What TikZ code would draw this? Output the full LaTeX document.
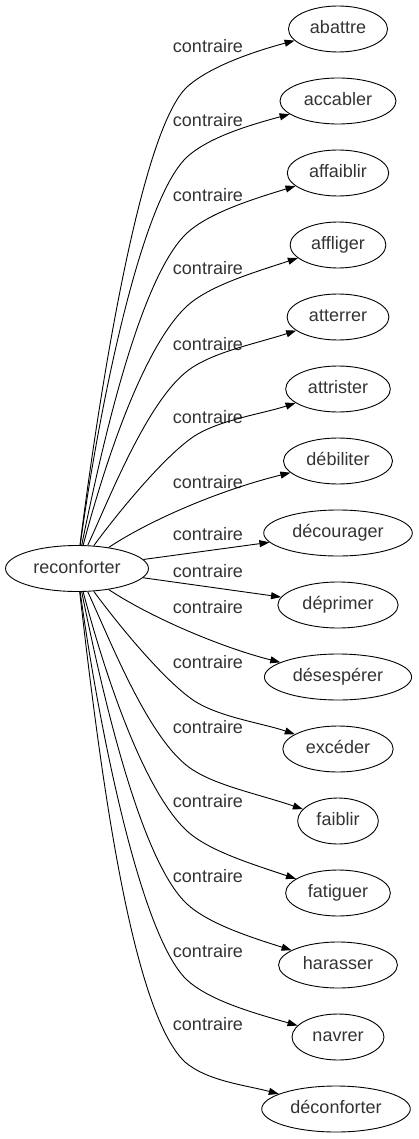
\documentclass[tikz,border=0pt]{standalone}
\usepackage{fontspec}
\setmainfont{Liberation Sans}[Ligatures=NoCommon]
\usetikzlibrary{shapes.geometric,arrows.meta}
\definecolor{txt}{HTML}{333333}
\begin{document}
\begin{tikzpicture}[x=1pt,y=-1pt,
  word/.style={ellipse,draw,line width=0.9pt,inner xsep=7pt,inner ysep=0pt,
    minimum height=46pt,text height=13pt,text depth=4pt,
    font=\fontsize{18}{21}\selectfont,text=txt},
  rel/.style={inner sep=0pt,anchor=base,font=\fontsize{18}{21}\selectfont,text=txt},
  link/.style={draw,line width=0.9pt,-{Triangle[length=10pt,width=7pt]}}]
\path[use as bounding box] (0,0) rectangle (419,1139);

\node[word] (rec) at (77,568.5) {reconforter};
\node[word] (n0) at (338,29) {abattre};
\node[word] (n1) at (338,101) {accabler};
\node[word] (n2) at (338,173) {affaiblir};
\node[word] (n3) at (338,245) {affliger};
\node[word] (n4) at (338,317) {atterrer};
\node[word] (n5) at (338,389) {attrister};
\node[word] (n6) at (338,461) {débiliter};
\node[word] (n7) at (338,533) {décourager};
\node[word] (n8) at (338,605) {déprimer};
\node[word] (n9) at (338,677) {désespérer};
\node[word] (n10) at (338,749) {excéder};
\node[word] (n11) at (338,821) {faiblir};
\node[word] (n12) at (338,893) {fatiguer};
\node[word] (n13) at (338,965) {harasser};
\node[word] (n14) at (338,1037) {navrer};
\node[word] (n15) at (336,1109) {déconforter};

\node[rel] (l0) at (208,53) {contraire};
\node[rel] (l1) at (208,127) {contraire};
\node[rel] (l2) at (208,202) {contraire};
\node[rel] (l3) at (208,275) {contraire};
\node[rel] (l4) at (208,350) {contraire};
\node[rel] (l5) at (208,423) {contraire};
\node[rel] (l6) at (208,488) {contraire};
\node[rel] (l7) at (208,540) {contraire};
\node[rel] (l8) at (208,577) {contraire};
\node[rel] (l9) at (208,613) {contraire};
\node[rel] (l10) at (208,668) {contraire};
\node[rel] (l11) at (208,733) {contraire};
\node[rel] (l12) at (208,807) {contraire};
\node[rel] (l13) at (208,882) {contraire};
\node[rel] (l14) at (208,957) {contraire};
\node[rel] (l15) at (208,1030) {contraire};

\draw[link] (rec) .. controls (99,395) and (140,131) .. (187,87) .. controls (209,67) and (252,52) .. (n0);
\draw[link] (rec) .. controls (98,415) and (140,201) .. (187,157) .. controls (209,137) and (250,125) .. (n1);
\draw[link] (rec) .. controls (102,445) and (140,277) .. (187,233) .. controls (209,213) and (250,200) .. (n2);
\draw[link] (rec) .. controls (107,455) and (145,345) .. (187,306) .. controls (209,286) and (252,273) .. (n3);
\draw[link] (rec) .. controls (111,495) and (150,394) .. (193,367) .. controls (218,351) and (258,343) .. (n4);
\draw[link] (rec) .. controls (120,510) and (164,457) .. (193,437) .. controls (218,420) and (262,414) .. (n5);
\draw[link] (rec) .. controls (150,520) and (220,490) .. (n6);
\draw[link] (rec) -- (n7);
\draw[link] (rec) -- (n8);
\draw[link] (rec) .. controls (150,617) and (220,647) .. (n9);
\draw[link] (rec) .. controls (120,627) and (164,680) .. (193,700) .. controls (218,717) and (262,723) .. (n10);
\draw[link] (rec) .. controls (111,642) and (150,743) .. (193,770) .. controls (218,786) and (258,794) .. (n11);
\draw[link] (rec) .. controls (107,682) and (145,792) .. (187,831) .. controls (209,851) and (252,864) .. (n12);
\draw[link] (rec) .. controls (102,692) and (140,860) .. (187,904) .. controls (209,924) and (250,937) .. (n13);
\draw[link] (rec) .. controls (98,722) and (140,936) .. (187,980) .. controls (209,1000) and (250,1012) .. (n14);
\draw[link] (rec) .. controls (99,760) and (130,1010) .. (185,1062) .. controls (207,1081) and (245,1085) .. (n15);
\end{tikzpicture}
\end{document}
